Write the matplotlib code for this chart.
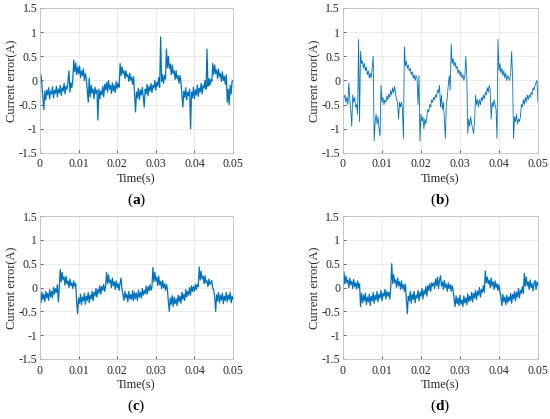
import numpy as np
import matplotlib
matplotlib.use("Agg")
import matplotlib.pyplot as plt

plt.rcParams['font.family'] = ['Liberation Serif', 'DejaVu Serif']
plt.rcParams['mathtext.fontset'] = 'custom'
plt.rcParams['mathtext.rm'] = 'Liberation Serif'
plt.rcParams['mathtext.bf'] = 'Liberation Serif:bold'
plt.rcParams['axes.unicode_minus'] = False

# sample index -> time, 0.25 ms per sample
tiempo = np.arange(201) * 0.00025

# error de corriente (a)
err_a = [
    -0.05, 0.12, -0.1, -0.35, -0.6, -0.22, -0.4, -0.2, -0.3, -0.15, -0.38, -0.22, -0.28, -0.13, -0.36, -0.2, -0.27, -0.12, -0.34, -0.18,
    -0.26, -0.1, -0.31, -0.15, -0.22, -0.06, -0.28, -0.12, -0.18, -0.02, 0.2, -0.24, -0.05, -0.15, 0.02, 0.42, 0.18, 0.36, 0.12, 0.28,
    0.14, 0.3, 0.06, 0.2, 0.1, 0.24, 0.0, 0.14, 0.04, -0.2, -0.45, 0.05, -0.34, -0.1, -0.26, -0.18, -0.38, -0.14, -0.27, -0.2,
    -0.82, -0.18, -0.38, -0.22, -0.3, -0.12, -0.34, -0.08, -0.2, -0.04, -0.24, 0.0, -0.18, -0.1, -0.27, -0.05, -0.22, -0.1, -0.25, -0.02,
    -0.16, -0.06, -0.14, 0.35, 0.1, 0.28, 0.14, 0.2, 0.04, 0.2, 0.08, 0.12, -0.02, 0.15, 0.0, 0.07, -0.08, 0.08, -0.3, -0.65,
    -0.24, -0.36, -0.16, -0.4, -0.2, -0.3, -0.14, -0.35, -0.55, -0.18, -0.28, -0.08, -0.32, -0.12, -0.22, -0.06, -0.25, -0.1, -0.16, 0.0,
    -0.2, -0.04, -0.12, 0.06, -0.14, 0.9, -0.02, 0.12, -0.06, 0.1, 0.03, 0.65, 0.26, 0.5, 0.25, 0.34, 0.12, 0.32, 0.14, 0.2,
    0.02, 0.2, 0.04, 0.1, -0.06, 0.1, -0.02, -0.3, -0.55, -0.22, -0.35, -0.15, -0.4, -0.24, -0.32, -0.18, -1.0, -0.24, -0.36, -0.14,
    -0.38, -0.2, -0.3, -0.1, -0.33, -0.16, -0.24, -0.06, -0.28, -0.1, -0.16, 0.0, -0.18, 0.65, -0.12, 0.04, -0.1, 0.02, -0.02, 0.35,
    0.12, 0.32, 0.14, 0.22, 0.04, 0.24, 0.08, 0.14, -0.02, 0.18, 0.0, 0.08, -0.08, 0.12, -0.45, -0.18, -0.5, -0.1, -0.28, -0.02,
    0.0,
]

# error de corriente (b)
err_b = [
    -0.6, -0.35, -0.3, -0.45, -0.35, -0.5, -0.05, -0.4, -0.6, -0.95, -0.3, -0.45, -0.35, -0.55, -0.5, -0.7, 0.85, -0.85, 0.6, 0.35,
    0.4, 0.25, 0.35, 0.2, 0.28, 0.12, 0.2, 0.05, 0.15, 0.05, 0.28, 0.5, -1.25, -0.85, -0.7, -0.9, -0.75, -1.0, -1.15, -0.1,
    -0.45, -0.35, -0.5, -0.4, -0.45, -0.32, -0.4, -0.28, -0.35, -0.2, -0.3, -0.15, -0.25, -0.12, -0.3, -0.4, -0.45, -0.8, -0.45, -0.55,
    -0.45, -0.6, -1.2, 0.7, 0.3, 0.4, 0.25, 0.32, 0.2, 0.25, 0.12, 0.18, 0.05, 0.12, 0.0, 0.1, 0.05, -0.5, 0.1, -1.25,
    -0.7, -0.85, -0.75, -1.0, -0.8, -0.9, -0.75, -0.6, -0.65, -0.5, -0.55, -0.4, -0.45, -0.35, -0.4, -0.3, -0.35, -0.2, -0.25, -0.1,
    -0.55, -0.3, -0.6, -0.45, -0.8, -1.2, -0.5, -0.35, -0.1, 0.1, -0.2, 0.75, 0.35, 0.45, 0.3, 0.38, 0.25, 0.3, 0.15, 0.22,
    0.1, 0.18, 0.05, 0.12, 0.0, 0.1, 0.5, 0.05, -1.1, -0.8, -0.95, -0.75, -0.9, -1.0, -1.1, -0.85, -0.3, -0.5, -0.4, -0.55,
    -0.4, -0.5, -0.35, -0.42, -0.3, -0.38, -0.25, -0.3, -0.15, -0.25, -0.1, -0.2, -0.8, -0.45, -0.55, -0.4, -0.5, -0.6, -1.2, 0.85,
    0.2, 0.35, 0.15, 0.25, 0.1, 0.2, 0.05, 0.15, 0.0, 0.1, 0.05, 0.0, 0.15, 0.6, 0.05, -1.2, -0.75, -0.85, -0.7, -0.9,
    -0.8, -0.85, -0.75, -0.5, -0.55, -0.4, -0.5, -0.35, -0.45, -0.3, -0.4, -0.3, -0.35, -0.25, -0.3, -0.15, -0.2, -0.1, -0.05, 0.0,
    -0.45,
]

# error de corriente (c)
err_c = [
    -0.15, -0.32, -0.1, -0.25, -0.14, -0.3, -0.08, -0.22, -0.12, -0.27, -0.04, -0.2, -0.08, -0.22, 0.0, -0.14, -0.02, -0.1, 0.06, -0.3,
    0.0, 0.38, 0.12, 0.32, 0.16, 0.22, 0.05, 0.24, 0.08, 0.14, 0.0, 0.18, 0.04, 0.1, -0.02, 0.14, 0.03, 0.08, -0.3, -0.55,
    -0.22, -0.33, -0.14, -0.36, -0.2, -0.28, -0.12, -0.35, -0.18, -0.27, -0.1, -0.32, -0.16, -0.24, -0.08, -0.28, -0.1, -0.18, -0.02, -0.2,
    -0.04, -0.12, 0.04, -0.14, 0.02, -0.06, 0.07, -0.08, 0.02, 0.32, 0.08, 0.27, 0.1, 0.16, 0.0, 0.2, 0.04, 0.12, -0.04, 0.14,
    0.0, 0.08, -0.06, 0.1, 0.2, -0.05, -0.15, -0.27, -0.08, -0.22, -0.14, -0.3, -0.08, -0.24, -0.15, -0.25, -0.06, -0.28, -0.1, -0.23,
    -0.12, -0.27, -0.05, -0.2, -0.1, -0.22, -0.02, -0.16, -0.06, -0.13, 0.03, -0.14, 0.02, -0.07, 0.06, -0.06, 0.02, 0.42, 0.12, 0.32,
    0.14, 0.22, 0.04, 0.24, 0.06, 0.13, -0.02, 0.15, 0.0, 0.08, -0.06, 0.07, -0.03, -0.3, -0.5, -0.22, -0.35, -0.17, -0.4, -0.2,
    -0.34, -0.24, -0.38, -0.16, -0.3, -0.18, -0.33, -0.1, -0.25, -0.14, -0.27, -0.04, -0.2, -0.08, -0.16, 0.0, -0.16, 0.04, -0.08, 0.02,
    -0.08, 0.07, -0.04, 0.06, 0.02, 0.43, 0.16, 0.34, 0.18, 0.24, 0.08, 0.25, 0.1, 0.14, 0.02, 0.18, 0.06, 0.1, 0.15, -0.02,
    -0.05, -0.2, -0.5, -0.15, -0.28, -0.1, -0.32, -0.16, -0.26, -0.12, -0.34, -0.18, -0.27, -0.1, -0.3, -0.16, -0.25, -0.1, -0.32, -0.18,
    -0.25,
]

# error de corriente (d)
err_d = [
    -0.25, 0.33, 0.08, 0.24, 0.1, 0.16, 0.0, 0.2, 0.06, 0.13, -0.02, 0.17, 0.02, 0.1, -0.03, 0.14, 0.0, 0.08, -0.4, -0.12,
    -0.32, -0.16, -0.28, -0.12, -0.36, -0.2, -0.3, -0.14, -0.38, -0.18, -0.28, -0.1, -0.33, -0.16, -0.26, -0.08, -0.3, -0.14, -0.22, -0.06,
    -0.28, -0.12, -0.18, -0.04, -0.24, -0.08, -0.18, -0.1, -0.24, 0.0, 0.5, 0.08, 0.27, 0.1, 0.16, 0.0, 0.2, 0.04, 0.12, -0.04,
    0.14, -0.02, 0.06, -0.08, 0.07, -0.25, -0.55, -0.18, -0.28, -0.08, -0.33, -0.14, -0.25, -0.08, -0.32, -0.16, -0.22, -0.06, -0.28, -0.1,
    -0.18, -0.02, -0.24, -0.06, -0.14, 0.02, -0.18, 0.04, -0.06, 0.08, -0.08, 0.1, 0.03, 0.1, -0.02, 0.18, 0.04, 0.22, -0.02, 0.15,
    0.25, 0.03, 0.12, -0.04, 0.15, 0.0, 0.07, -0.08, 0.1, -0.02, 0.06, -0.08, 0.04, -0.06, -0.25, -0.4, -0.17, -0.34, -0.22, -0.38,
    -0.16, -0.35, -0.26, -0.4, -0.18, -0.32, -0.22, -0.36, -0.13, -0.3, -0.18, -0.27, -0.1, -0.3, -0.12, -0.22, -0.06, -0.25, -0.08, -0.16,
    0.0, -0.2, -0.04, -0.1, 0.04, -0.1, 0.35, 0.1, 0.22, 0.08, 0.16, 0.0, 0.2, 0.03, 0.12, -0.04, 0.14, 0.0, 0.08, -0.06,
    0.06, -0.08, -0.2, -0.38, -0.14, -0.3, -0.2, -0.36, -0.16, -0.32, -0.2, -0.28, -0.12, -0.33, -0.14, -0.24, -0.08, -0.28, -0.1, -0.2,
    -0.02, -0.22, -0.06, -0.12, 0.02, -0.12, 0.3, 0.03, 0.22, 0.04, 0.12, -0.04, 0.16, 0.0, 0.08, -0.07, 0.1, 0.15, -0.04, 0.12,
    0.05,
]

etiquetas = ['a', 'b', 'c', 'd']
series = [err_a, err_b, err_c, err_d]
yticks = [-1.5, -1, -0.5, 0, 0.5, 1, 1.5]
ytick_labels = ['-1.5', '-1', '-0.5', '0', '0.5', '1', '1.5']
xticks = [0, 0.01, 0.02, 0.03, 0.04, 0.05]
xtick_labels = ['0', '0.01', '0.02', '0.03', '0.04', '0.05']

fig = plt.figure(figsize=(5.5, 4.19), dpi=100)

# posiciones de los ejes en fraccion de figura
posiciones = [
    [0.0727, 0.635, 0.351, 0.346],
    [0.6236, 0.635, 0.3545, 0.346],
    [0.0727, 0.1432, 0.351, 0.341],
    [0.6236, 0.1432, 0.3545, 0.341],
]

for pos, datos, letra in zip(posiciones, series, etiquetas):
    ax = fig.add_axes(pos)
    lw = 0.6 if letra == 'b' else 0.9
    ax.plot(tiempo, datos, color='#0072BD', linewidth=lw)
    ax.set_xlim(0, 0.05)
    ax.set_ylim(-1.5, 1.5)
    ax.set_xticks(xticks)
    ax.set_xticklabels(xtick_labels)
    ax.set_yticks(yticks)
    ax.set_yticklabels(ytick_labels)
    ax.grid(True, color='#e6e6e6', linewidth=0.6)
    ax.set_axisbelow(True)
    ax.tick_params(direction='in', length=2, width=0.5, colors='#262626',
                   labelsize=8.5)
    ax.tick_params(axis='x', pad=4)
    ax.tick_params(axis='y', pad=2)
    for s in ax.spines.values():
        s.set_color('#bfbfbf')
        s.set_linewidth(0.6)
    ax.set_xlabel('Time(s)', fontsize=9, color='#262626', labelpad=2)
    ax.set_ylabel('Current error(A)', fontsize=9, color='#262626', labelpad=0)
    # etiqueta del subgrafico
    ax.text(0.5, -0.33, r'($\mathbf{' + letra + r'}$)', transform=ax.transAxes,
            ha='center', va='center', fontsize=11)

fig.savefig('out.png', dpi=100)
